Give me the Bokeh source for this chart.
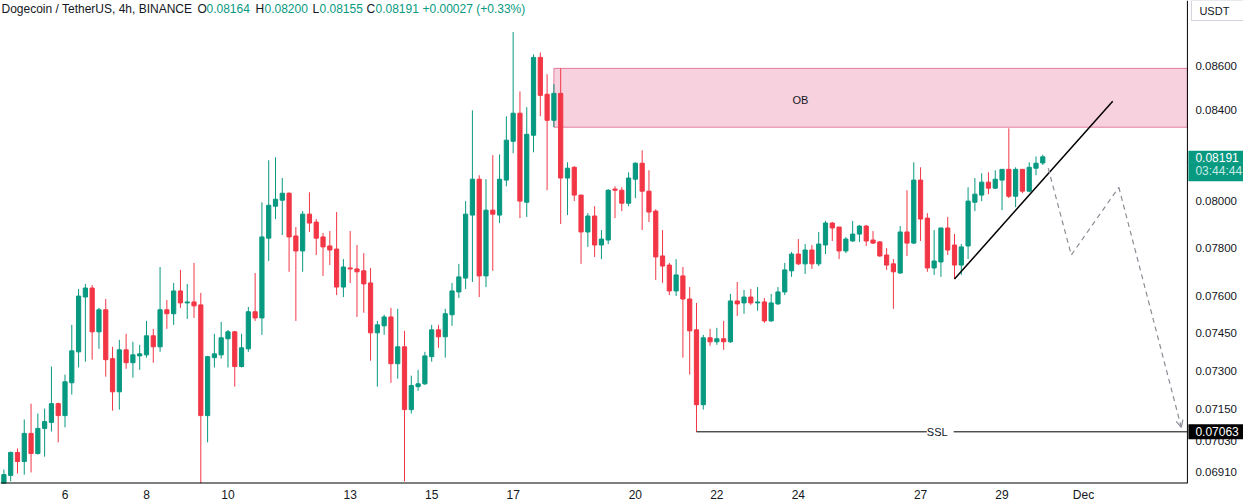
from bokeh.plotting import figure
from bokeh.models import ColumnDataSource, Range1d, FixedTicker, Label, Arrow, OpenHead
from bokeh.core.properties import value
from bokeh.embed import file_html
from bokeh.resources import INLINE

# ---------------- data (DOGE/USDT, 4h candles, Nov 4 12:00 -> Nov 30 00:00) ----------------
opens = [0.06869,0.06899,0.06985,0.06951,0.07057,0.06981,0.07076,0.07099,0.07171,0.07125,
0.07252,0.07374,0.07595,0.07632,0.07454,0.07543,0.07347,0.07217,0.07382,0.07331,
0.07358,0.07362,0.07438,0.07394,0.07543,0.07527,0.07620,0.07571,0.07575,0.07563,
0.07125,0.07351,0.07362,0.07426,0.07454,0.07316,0.07386,0.07535,0.07510,0.07840,
0.07976,0.08002,0.08032,0.07849,0.07786,0.07942,0.07908,0.07845,0.07807,0.07794,
0.07636,0.07715,0.07711,0.07703,0.07653,0.07450,0.07478,0.07514,0.07327,0.07394,
0.07148,0.07237,0.07248,0.07355,0.07462,0.07434,0.07523,0.07616,0.07673,0.07938,
0.08093,0.07682,0.07959,0.07938,0.08089,0.08260,0.08386,0.07993,0.08287,0.08642,
0.08472,0.08354,0.08476,0.08098,0.08145,0.08024,0.07866,0.07934,0.07811,0.07832,
0.08050,0.08045,0.07989,0.08093,0.08163,0.08041,0.07955,0.07765,0.07727,0.07620,
0.07682,0.07587,0.07462,0.07167,0.07430,0.07414,0.07426,0.07414,0.07579,0.07571,
0.07595,0.07571,0.07575,0.07498,0.07567,0.07616,0.07703,0.07773,0.07732,0.07790,
0.07732,0.07811,0.07904,0.07887,0.07786,0.07828,0.07857,0.07891,0.07832,0.07824,
0.07769,0.07732,0.07694,0.07866,0.07819,0.08089,0.07925,0.07715,0.07740,0.07883,
0.07811,0.07727,0.07807,0.07993,0.08024,0.08080,0.08054,0.08089,0.08136,0.08019,
0.08136,0.08041,0.08141,0.08164]

highs = [0.06921,0.06988,0.07000,0.07110,0.07171,0.07133,0.07152,0.07316,0.07175,0.07284,
0.07482,0.07628,0.07649,0.07644,0.07551,0.07587,0.07394,0.07422,0.07446,0.07414,
0.07402,0.07498,0.07466,0.07719,0.07583,0.07653,0.07707,0.07649,0.07736,0.07612,
0.07358,0.07446,0.07494,0.07462,0.07458,0.07446,0.07555,0.07694,0.07993,0.08176,
0.08189,0.08098,0.08036,0.07887,0.07955,0.08036,0.07921,0.07862,0.07870,0.07951,
0.07752,0.07870,0.07811,0.07777,0.07715,0.07498,0.07523,0.07551,0.07547,0.07458,
0.07280,0.07303,0.07374,0.07482,0.07482,0.07547,0.07653,0.07732,0.07998,0.08399,
0.08110,0.08093,0.08198,0.08202,0.08372,0.08761,0.08485,0.08413,0.08656,0.08665,
0.08564,0.08518,0.08591,0.08167,0.08150,0.08024,0.07946,0.07976,0.07874,0.08050,
0.08062,0.08058,0.08123,0.08167,0.08220,0.08132,0.07963,0.07874,0.07736,0.07752,
0.07719,0.07636,0.07571,0.07442,0.07466,0.07470,0.07498,0.07608,0.07657,0.07624,
0.07628,0.07636,0.07591,0.07608,0.07636,0.07736,0.07782,0.07836,0.07815,0.07811,
0.07866,0.07913,0.07908,0.07887,0.07845,0.07913,0.07896,0.07896,0.07870,0.07828,
0.07798,0.07752,0.07891,0.08045,0.08167,0.08145,0.07946,0.07874,0.07883,0.07930,
0.07857,0.07815,0.08058,0.08098,0.08119,0.08123,0.08132,0.08136,0.08318,0.08145,
0.08136,0.08167,0.08193,0.08200]

lows = [0.06854,0.06877,0.06906,0.06902,0.06910,0.06977,0.06969,0.07064,0.07023,0.07080,
0.07206,0.07312,0.07335,0.07343,0.07386,0.07276,0.07144,0.07148,0.07307,0.07272,
0.07303,0.07351,0.07331,0.07374,0.07466,0.07482,0.07551,0.07506,0.07510,0.06869,
0.07023,0.07312,0.07347,0.07312,0.07237,0.07312,0.07374,0.07498,0.07442,0.07744,
0.07921,0.07853,0.07699,0.07498,0.07699,0.07866,0.07769,0.07682,0.07727,0.07603,
0.07595,0.07653,0.07514,0.07531,0.07339,0.07237,0.07442,0.07252,0.07268,0.06877,
0.07133,0.07221,0.07244,0.07335,0.07390,0.07351,0.07478,0.07591,0.07628,0.07657,
0.07595,0.07636,0.07703,0.07904,0.08062,0.08207,0.07925,0.07930,0.08211,0.08372,
0.08045,0.08323,0.07900,0.07938,0.07998,0.07732,0.07803,0.07761,0.07752,0.07815,
0.07925,0.07955,0.07976,0.08011,0.07874,0.07908,0.07665,0.07653,0.07603,0.07599,
0.07351,0.07284,0.07063,0.07148,0.07398,0.07402,0.07382,0.07410,0.07518,0.07527,
0.07563,0.07539,0.07490,0.07494,0.07563,0.07603,0.07678,0.07727,0.07690,0.07711,
0.07723,0.07773,0.07828,0.07752,0.07777,0.07824,0.07824,0.07807,0.07815,0.07761,
0.07707,0.07547,0.07690,0.07765,0.07815,0.07828,0.07699,0.07686,0.07678,0.07769,
0.07669,0.07686,0.07752,0.07955,0.07998,0.08028,0.08050,0.07959,0.08011,0.07972,
0.08032,0.08036,0.08110,0.08155]

closes = [0.06902,0.06985,0.06951,0.07057,0.06981,0.07076,0.07102,0.07171,0.07125,0.07256,
0.07378,0.07599,0.07632,0.07454,0.07543,0.07343,0.07217,0.07382,0.07331,0.07362,
0.07366,0.07438,0.07394,0.07543,0.07527,0.07620,0.07571,0.07575,0.07559,0.07125,
0.07355,0.07366,0.07430,0.07454,0.07316,0.07390,0.07535,0.07510,0.07845,0.07980,
0.08006,0.08032,0.07845,0.07786,0.07942,0.07904,0.07840,0.07803,0.07790,0.07636,
0.07719,0.07711,0.07699,0.07649,0.07450,0.07482,0.07514,0.07327,0.07394,0.07148,
0.07241,0.07248,0.07358,0.07462,0.07434,0.07527,0.07620,0.07678,0.07942,0.08093,
0.07682,0.07959,0.07942,0.08093,0.08265,0.08386,0.07998,0.08291,0.08642,0.08467,
0.08354,0.08476,0.08098,0.08141,0.08024,0.07866,0.07934,0.07811,0.07836,0.08045,
0.08045,0.07989,0.08098,0.08163,0.08041,0.07951,0.07761,0.07723,0.07620,0.07686,
0.07587,0.07458,0.07167,0.07430,0.07414,0.07426,0.07414,0.07579,0.07567,0.07595,
0.07571,0.07575,0.07498,0.07571,0.07616,0.07707,0.07773,0.07732,0.07790,0.07732,
0.07815,0.07904,0.07883,0.07786,0.07836,0.07857,0.07891,0.07828,0.07819,0.07765,
0.07727,0.07699,0.07866,0.07819,0.08089,0.07921,0.07715,0.07744,0.07883,0.07790,
0.07727,0.07803,0.07998,0.08028,0.08080,0.08054,0.08093,0.08136,0.08019,0.08136,
0.08041,0.08145,0.08163,0.08191]

# x ticks (candle index of day start) and labels
tick_index = [9, 21, 33, 51, 63, 75, 93, 105, 117, 135, 147, 159]
tick_labels = ["6", "8", "10", "13", "15", "17", "20", "22", "24", "27", "29", "Dec"]
# price scale ticks (0.08200 is hidden under the last-price tag)
price_ticks = [0.0691, 0.0703, 0.0715, 0.0730, 0.0745, 0.0760, 0.0780, 0.0800, 0.0840, 0.0860]

# drawings
ob_left, ob_bottom, ob_top = 81, 0.08323, 0.08591
ob_label_x, ob_label_y = 117.3, 0.08444
ssl_start, ssl_price, ssl_label_x = 102, 0.07063, 137.9
trend_x = [140, 163.3]
trend_y = [0.07669, 0.08440]
proj_x = [153.8, 157.2, 164.2, 173.4]
proj_y = [0.08141, 0.07769, 0.08058, 0.07080]
last_price = 0.08191
countdown = "03:44:44"
quote_ccy = "USDT"

header_parts = [("Dogecoin / TetherUS, 4h, BINANCE", 1, "dark"),
                ("O", 197, "dark"), ("0.08164", 206, "green"),
                ("H", 255, "dark"), ("0.08200", 264, "green"),
                ("L", 312, "dark"), ("0.08155", 319, "green"),
                ("C", 366, "dark"), ("0.08191", 375, "green"),
                ("+0.00027 (+0.33%)", 422, "green")]

# ---------------- styling / layout ----------------
GREEN = "#089981"
RED = "#F23645"
DARK = "#131722"
FONT = "Liberation Sans"

X0, X_AXIS, X_END = -0.5, 174.3, 182.56   # X_AXIS = position of the price scale line
Y0, Y1 = 0.06869, 0.08911

n = len(opens)
xs = list(range(n))
colors = [GREEN if c >= o else RED for o, c in zip(opens, closes)]
src = ColumnDataSource(dict(
    x=xs, high=highs, low=lows,
    top=[max(o, c) for o, c in zip(opens, closes)],
    bottom=[min(o, c) for o, c in zip(opens, closes)],
    color=colors))

p = figure(width=1243, height=504, x_range=Range1d(X0, X_END), y_range=Range1d(Y0, Y1),
           y_axis_type="log", y_axis_location=None,
           output_backend="svg", toolbar_location=None,
           min_border_left=0, min_border_top=0, min_border_right=0, min_border_bottom=0)
p.outline_line_color = None
p.xgrid.visible = False
p.ygrid.visible = False
p.background_fill_color = "white"
p.border_fill_color = "white"

xax = p.xaxis[0]
xax.ticker = FixedTicker(ticks=tick_index)
xax.major_label_overrides = {t: l for t, l in zip(tick_index, tick_labels)}
xax.major_tick_line_color = None
xax.minor_tick_line_color = None
xax.major_tick_out = 0
xax.minor_tick_out = 0
xax.axis_line_color = None
xax.major_label_text_font = FONT
xax.major_label_text_font_size = "12px"
xax.major_label_text_color = DARK
xax.major_label_standoff = 4

# order block zone
p.quad(left=[ob_left], right=[X_AXIS], bottom=[ob_bottom], top=[ob_top],
       fill_color="#f8d1de", fill_alpha=1, line_color="#e27d9e", line_width=1)

# candles
p.segment(x0="x", y0="high", x1="x", y1="low", line_color="color", line_width=1, source=src)
p.vbar(x="x", width=0.62, top="top", bottom="bottom", fill_color="color",
       line_color="color", line_width=1, source=src)

# trendline, SSL, projection
p.line(trend_x, trend_y, line_color="black", line_width=1.5)
p.line([ssl_start, X_AXIS], [ssl_price, ssl_price], line_color="black", line_width=1)
p.line(proj_x[:3], proj_y[:3], line_color="#8a8d96", line_width=1.2, line_dash="5 4")
p.add_layout(Arrow(end=OpenHead(size=7, line_color="#8a8d96", line_width=1.2),
                   x_start=proj_x[2], y_start=proj_y[2], x_end=proj_x[3], y_end=proj_y[3],
                   line_color="#8a8d96", line_width=1.2, line_dash="5 4"))

# price scale: axis lines and tick labels
p.line([X_AXIS, X_AXIS], [Y0, Y1], line_color="black", line_width=1)
p.line([X0, X_AXIS], [Y0, Y0], line_color="black", line_width=2)
p.text(x=[X_AXIS] * len(price_ticks), y=price_ticks, text=[f"{t:.5f}" for t in price_ticks],
       x_offset=8, text_baseline="middle", text_align="left", text_font=value(FONT),
       text_font_size="11.5px", text_color=DARK)

p.add_layout(Label(x=ob_label_x, y=ob_label_y, text="OB", text_align="center",
                   text_baseline="middle", text_font=FONT, text_font_size="11px", text_color=DARK))
p.add_layout(Label(x=ssl_label_x, y=ssl_price, text=" SSL ", text_align="center",
                   text_baseline="middle", text_font=FONT, text_font_size="11px", text_color=DARK,
                   background_fill_color="white"))

# header
for txt, xpos, kind in header_parts:
    p.add_layout(Label(x=xpos, y=0.08872, x_units="screen", text=txt, text_align="left",
                       text_baseline="middle", text_font=FONT, text_font_size="12px",
                       text_color=DARK if kind == "dark" else GREEN))

# price tags on the price scale
p.add_layout(Label(x=X_AXIS, y=last_price, x_offset=1, text=f"{last_price:.5f}", text_align="left",
                   text_baseline="middle", text_font=FONT, text_font_size="12px",
                   text_color="white", background_fill_color=GREEN,
                   padding=dict(left=7, right=30, top=2, bottom=1), level="overlay"))
p.add_layout(Label(x=X_AXIS, y=last_price, x_offset=1, y_offset=-15, text=countdown,
                   text_align="left", text_baseline="middle", text_font=FONT,
                   text_font_size="12px", text_color="#c4ebe4", background_fill_color=GREEN,
                   padding=dict(left=7, right=30, top=2, bottom=3), level="overlay"))
p.add_layout(Label(x=X_AXIS, y=ssl_price, x_offset=1, text=f"{ssl_price:.5f}", text_align="left",
                   text_baseline="middle", text_font=FONT, text_font_size="12px",
                   text_color="white", background_fill_color="black",
                   padding=dict(left=7, right=30, top=3, bottom=3), level="overlay"))
p.add_layout(Label(x=X_AXIS, y=0.08863, x_offset=4, text=quote_ccy, text_align="left",
                   text_baseline="middle", text_font=FONT, text_font_size="11px",
                   text_color=DARK, background_fill_color="white",
                   border_line_color="#d1d4dc", padding=dict(left=8, right=30, top=4, bottom=4),
                   level="overlay"))

open("out.html", "w").write(file_html(p, INLINE))
